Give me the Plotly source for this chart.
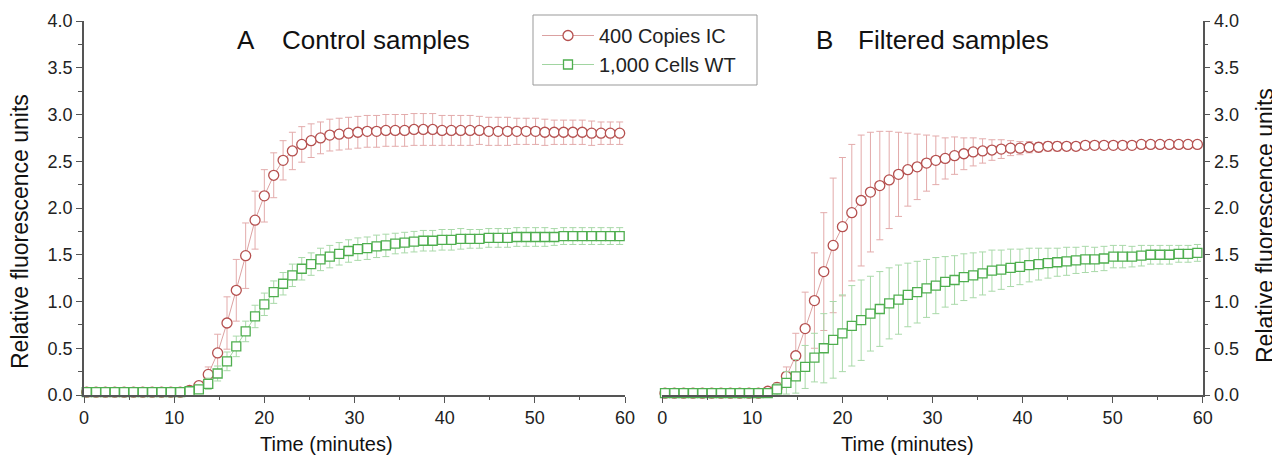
import plotly.graph_objects as go

# ---------------- data ----------------
time_min = [0.30, 1.34, 2.37, 3.41, 4.45, 5.49, 6.52, 7.56, 8.60, 9.63,
            10.67, 11.71, 12.74, 13.78, 14.82, 15.86, 16.89, 17.93, 18.97, 20.00,
            21.04, 22.08, 23.11, 24.15, 25.19, 26.23, 27.26, 28.30, 29.34, 30.37,
            31.41, 32.45, 33.48, 34.52, 35.56, 36.60, 37.63, 38.67, 39.71, 40.74,
            41.78, 42.82, 43.85, 44.89, 45.93, 46.97, 48.00, 49.04, 50.08, 51.11,
            52.15, 53.19, 54.22, 55.26, 56.30, 57.34, 58.37, 59.41]

ctrl_ic = [0.03, 0.03, 0.03, 0.03, 0.03, 0.03, 0.03, 0.03, 0.03, 0.03,
           0.03, 0.05, 0.10, 0.22, 0.45, 0.77, 1.12, 1.49, 1.87, 2.13,
           2.35, 2.51, 2.61, 2.68, 2.72, 2.75, 2.78, 2.79, 2.80, 2.81,
           2.82, 2.82, 2.83, 2.83, 2.83, 2.84, 2.84, 2.84, 2.83, 2.83,
           2.83, 2.83, 2.83, 2.82, 2.82, 2.82, 2.82, 2.82, 2.82, 2.81,
           2.81, 2.81, 2.81, 2.81, 2.80, 2.80, 2.80, 2.80]
ctrl_ic_err = [0.01, 0.01, 0.01, 0.01, 0.01, 0.01, 0.01, 0.01, 0.01, 0.01,
               0.01, 0.02, 0.04, 0.08, 0.20, 0.28, 0.33, 0.35, 0.31, 0.28,
               0.24, 0.21, 0.20, 0.19, 0.18, 0.17, 0.17, 0.17, 0.17, 0.17,
               0.17, 0.17, 0.17, 0.17, 0.17, 0.17, 0.17, 0.17, 0.16, 0.16,
               0.16, 0.16, 0.15, 0.15, 0.15, 0.15, 0.14, 0.14, 0.14, 0.14,
               0.13, 0.13, 0.13, 0.13, 0.13, 0.12, 0.12, 0.12]

ctrl_wt = [0.03, 0.03, 0.03, 0.03, 0.03, 0.03, 0.03, 0.03, 0.03, 0.03,
           0.03, 0.04, 0.06, 0.12, 0.23, 0.36, 0.52, 0.68, 0.84, 0.97,
           1.10, 1.19, 1.28, 1.35, 1.40, 1.45, 1.48, 1.51, 1.54, 1.56,
           1.57, 1.59, 1.60, 1.62, 1.63, 1.64, 1.65, 1.65, 1.66, 1.66,
           1.67, 1.67, 1.67, 1.68, 1.68, 1.68, 1.69, 1.69, 1.69, 1.69,
           1.69, 1.70, 1.70, 1.70, 1.70, 1.70, 1.70, 1.70]
ctrl_wt_err = [0.01, 0.01, 0.01, 0.01, 0.01, 0.01, 0.01, 0.01, 0.01, 0.01,
               0.01, 0.02, 0.04, 0.06, 0.08, 0.10, 0.11, 0.11, 0.12, 0.12,
               0.12, 0.12, 0.12, 0.12, 0.12, 0.12, 0.12, 0.12, 0.12, 0.12,
               0.12, 0.12, 0.12, 0.11, 0.11, 0.11, 0.11, 0.11, 0.11, 0.11,
               0.11, 0.10, 0.10, 0.10, 0.10, 0.10, 0.10, 0.10, 0.10, 0.10,
               0.09, 0.09, 0.09, 0.09, 0.09, 0.09, 0.09, 0.09]

filt_ic = [0.02, 0.02, 0.02, 0.02, 0.02, 0.02, 0.02, 0.02, 0.02, 0.02,
           0.02, 0.04, 0.08, 0.20, 0.42, 0.71, 1.01, 1.32, 1.60, 1.80,
           1.95, 2.08, 2.17, 2.24, 2.30, 2.36, 2.41, 2.44, 2.48, 2.51,
           2.53, 2.56, 2.58, 2.60, 2.61, 2.62, 2.63, 2.64, 2.64, 2.65,
           2.65, 2.66, 2.66, 2.66, 2.66, 2.67, 2.67, 2.67, 2.67, 2.67,
           2.67, 2.68, 2.68, 2.68, 2.68, 2.68, 2.68, 2.68]
filt_ic_err = [0.02, 0.02, 0.02, 0.02, 0.02, 0.02, 0.02, 0.02, 0.02, 0.02,
               0.02, 0.03, 0.05, 0.10, 0.24, 0.39, 0.51, 0.63, 0.72, 0.74,
               0.73, 0.70, 0.64, 0.58, 0.52, 0.45, 0.39, 0.35, 0.30, 0.26,
               0.22, 0.20, 0.17, 0.15, 0.13, 0.11, 0.10, 0.08, 0.07, 0.06,
               0.05, 0.05, 0.05, 0.04, 0.04, 0.04, 0.04, 0.04, 0.04, 0.04,
               0.04, 0.04, 0.04, 0.04, 0.04, 0.04, 0.04, 0.04]

filt_wt = [0.02, 0.02, 0.02, 0.02, 0.02, 0.02, 0.02, 0.02, 0.02, 0.02,
           0.02, 0.02, 0.06, 0.13, 0.20, 0.30, 0.40, 0.50, 0.59, 0.66,
           0.74, 0.80, 0.87, 0.92, 0.98, 1.02, 1.07, 1.10, 1.14, 1.17,
           1.21, 1.23, 1.26, 1.28, 1.30, 1.33, 1.34, 1.36, 1.37, 1.39,
           1.40, 1.41, 1.42, 1.43, 1.44, 1.45, 1.45, 1.46, 1.48, 1.48,
           1.48, 1.49, 1.50, 1.50, 1.50, 1.51, 1.51, 1.52]
filt_wt_err = [0.01, 0.01, 0.01, 0.01, 0.01, 0.01, 0.01, 0.01, 0.01, 0.01,
               0.01, 0.02, 0.06, 0.12, 0.18, 0.23, 0.26, 0.37, 0.41, 0.41,
               0.43, 0.43, 0.40, 0.40, 0.38, 0.37, 0.34, 0.33, 0.31, 0.30,
               0.27, 0.26, 0.25, 0.24, 0.23, 0.22, 0.21, 0.20, 0.19, 0.18,
               0.17, 0.16, 0.15, 0.15, 0.14, 0.14, 0.13, 0.13, 0.12, 0.12,
               0.11, 0.11, 0.10, 0.10, 0.10, 0.09, 0.09, 0.09]

series_names = ["400 Copies IC", "1,000 Cells WT"]
panel_letters = ["A", "B"]
panel_titles = ["Control samples", "Filtered samples"]
x_title = "Time (minutes)"
y_title = "Relative fluorescence units"

# ---------------- style ----------------
OFF = 8                      # page body margin of the html page
W, H = 1280 - OFF, 462 - OFF
FONT = "Liberation Sans, Arial, Helvetica, sans-serif"
RED, RED_LINE, RED_ERR = "#b5504f", "rgba(200,110,110,0.65)", "#e3abab"
GRN, GRN_LINE, GRN_ERR = "#4fae4f", "rgba(110,190,110,0.65)", "#a9d9a9"
AXC = "#555555"


def px(x):
    return (x - OFF) / W


def py(y):
    return 1 - (y - OFF) / H


fig = go.Figure()


def add(x, y, err, name, color, lcolor, ecolor, symbol, size, xa, ya, show):
    fig.add_trace(go.Scatter(
        x=x, y=y, name=name, mode="lines+markers",
        xaxis=xa, yaxis=ya, showlegend=show, cliponaxis=False,
        line=dict(color=lcolor, width=1),
        marker=dict(symbol=symbol, size=size, color="white",
                    line=dict(color=color, width=1.3)),
        error_y=dict(type="data", array=err, color=ecolor,
                     thickness=1, width=3.5),
    ))


add(time_min, ctrl_ic, ctrl_ic_err, series_names[0], RED, RED_LINE, RED_ERR, "circle", 10, "x", "y", True)
add(time_min, ctrl_wt, ctrl_wt_err, series_names[1], GRN, GRN_LINE, GRN_ERR, "square", 9, "x", "y", True)
add(time_min, filt_ic, filt_ic_err, series_names[0], RED, RED_LINE, RED_ERR, "circle", 10, "x2", "y2", False)
add(time_min, filt_wt, filt_wt_err, series_names[1], GRN, GRN_LINE, GRN_ERR, "square", 9, "x2", "y2", False)

ydom = [py(395), py(21)]
common_x = dict(range=[0, 60], tickvals=[0, 10, 20, 30, 40, 50, 60],
                showline=True, linecolor=AXC, linewidth=1.5, automargin=False,
                ticks="outside", ticklen=6, tickwidth=1.2, tickcolor=AXC,
                minor=dict(dtick=5, ticks="outside", ticklen=3, tickcolor=AXC, tickwidth=1),
                showgrid=False, zeroline=False,
                tickfont=dict(family=FONT, size=18, color="#222"))
common_y = dict(range=[0, 4], tickvals=[0, 0.5, 1, 1.5, 2, 2.5, 3, 3.5, 4],
                tickformat=".1f", automargin=False,
                showline=True, linecolor=AXC, linewidth=1.5,
                ticks="outside", ticklen=6, tickwidth=1.2, tickcolor=AXC,
                minor=dict(dtick=0.25, ticks="outside", ticklen=4, tickcolor=AXC, tickwidth=1),
                showgrid=False, zeroline=False, domain=ydom,
                tickfont=dict(family=FONT, size=18, color="#222"))

fig.update_layout(
    template="none",
    width=W, height=H, margin=dict(l=0, r=0, t=0, b=0, pad=0),
    paper_bgcolor="white", plot_bgcolor="white",
    font=dict(family=FONT, color="#222"),
    xaxis=dict(domain=[px(84), px(625)], anchor="y", **common_x),
    yaxis=dict(anchor="x", side="left", **common_y),
    xaxis2=dict(domain=[px(662.3), px(1202.7)], anchor="y2", **common_x),
    yaxis2=dict(anchor="x2", side="right", **common_y),
    legend=dict(x=px(537), y=py(16), xanchor="left", yanchor="top",
                bgcolor="rgba(0,0,0,0)", borderwidth=0,
                font=dict(family=FONT, size=20, color="#222"),
                itemwidth=52, tracegroupgap=0),
    shapes=[dict(type="rect", xref="paper", yref="paper",
                 x0=px(533), x1=px(757), y0=py(85), y1=py(15),
                 line=dict(color="#999999", width=1), fillcolor="white",
                 layer="below")],
)

ann = []
ann.append(dict(text=panel_letters[0], x=px(246), y=py(40), xanchor="center", yanchor="middle"))
ann.append(dict(text=panel_titles[0], x=px(280), y=py(40), xanchor="left", yanchor="middle"))
ann.append(dict(text=panel_letters[1], x=px(824), y=py(40), xanchor="center", yanchor="middle"))
ann.append(dict(text=panel_titles[1], x=px(856), y=py(40), xanchor="left", yanchor="middle"))
for a in ann:
    a.update(xref="paper", yref="paper", showarrow=False,
             font=dict(family=FONT, size=26, color="#111"))
ann2 = [
    dict(text=x_title, x=px(326), y=py(444), xanchor="center", yanchor="middle"),
    dict(text=x_title, x=px(908), y=py(444), xanchor="center", yanchor="middle"),
]
for a in ann2:
    a.update(xref="paper", yref="paper", showarrow=False,
             font=dict(family=FONT, size=20, color="#111"))
ann3 = [
    dict(text=y_title, x=px(20), y=py(232), xanchor="center", yanchor="middle", textangle=-90),
    dict(text=y_title, x=px(1265), y=py(226), xanchor="center", yanchor="middle", textangle=-90),
]
for a in ann3:
    a.update(xref="paper", yref="paper", showarrow=False,
             font=dict(family=FONT, size=23, color="#111"))
fig.update_layout(annotations=ann + ann2 + ann3)

fig.write_html("out.html")
